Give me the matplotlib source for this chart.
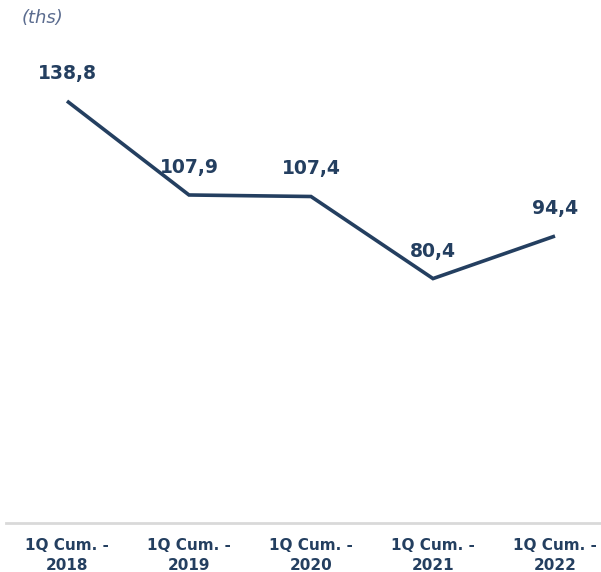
import matplotlib
matplotlib.use("Agg")
import matplotlib.pyplot as plt

categories = ["1Q Cum. -\n2018", "1Q Cum. -\n2019", "1Q Cum. -\n2020",
              "1Q Cum. -\n2021", "1Q Cum. -\n2022"]
values = [138.8, 107.9, 107.4, 80.4, 94.4]
value_labels = ["138,8", "107,9", "107,4", "80,4", "94,4"]
unit_label = "(ths)"

NAVY = "#243F60"
W, H = 601, 572
fig = plt.figure(figsize=(W / 100, H / 100), dpi=100)

# axes: bottom edge at the baseline, left at x=6px, running to the right edge
left, bottom, top = 6 / W, 1 - 523 / H, 1 - 20 / H
ax = fig.add_axes([left, bottom, 1 - left, top - bottom])

x = list(range(len(values)))
ax.plot(x, values, color=NAVY, lw=2.6, solid_capstyle="butt", solid_joinstyle="miter")

for xi, v, lab in zip(x, values, value_labels):
    ax.annotate(lab, (xi, v), xytext=(0, 13), textcoords="offset points",
                ha="center", va="bottom", fontsize=13.5, fontweight="bold",
                color=NAVY)

ax.set_xlim(-0.5, -0.5 + (W - 6) / 122)
ax.set_ylim(0, (523 - 20) / 3.04)

ax.set_xticks(x)
ax.set_xticklabels(categories, fontsize=11, fontweight="bold", color=NAVY,
                   linespacing=1.4)
ax.tick_params(axis="x", length=0, pad=11)
ax.set_yticks([])

for side in ("top", "right", "left"):
    ax.spines[side].set_visible(False)
ax.spines["bottom"].set_color("#D9D9D9")
ax.spines["bottom"].set_linewidth(2)
ax.patch.set_alpha(0)

fig.text(22 / W, 1 - 18 / H, unit_label, fontsize=13, style="italic",
         color="#5B6C8F", ha="left", va="center")

fig.savefig("out.png", dpi=100)
